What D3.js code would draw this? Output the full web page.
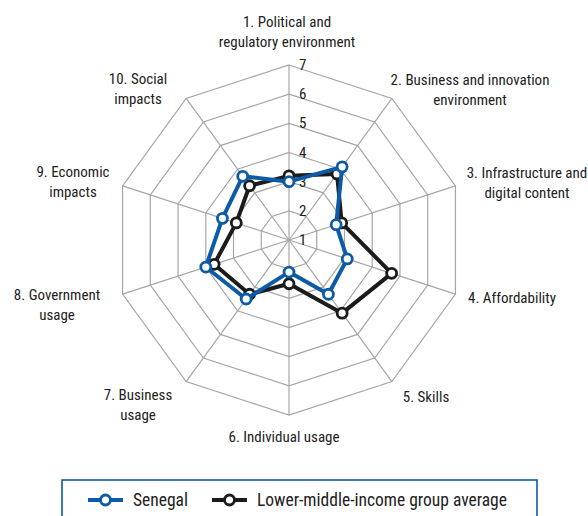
<!DOCTYPE html>
<html lang="en">
  <head>
    <meta charset="utf-8">
    <script type="text/javascript" src="https://cdn.jsdelivr.net/npm/d3@7"></script>
    <style>
      body { margin: 0; background: #fff; }
      svg { display: block; }
      text { font-family: "Liberation Sans Narrow", "Roboto Condensed", "Liberation Sans", sans-serif; fill: #222; }
    </style>
  </head>
  <body>
    <svg id="chart"></svg>
  </body>
  <script type="text/javascript">
    var width = 588;
    var height = 516;

    // data
    var categories = [
      ["1. Political and", "regulatory environment"],
      ["2. Business and innovation", "environment"],
      ["3. Infrastructure and", "digital content"],
      ["4. Affordability"],
      ["5. Skills"],
      ["6. Individual usage"],
      ["7. Business", "usage"],
      ["8. Government", "usage"],
      ["9. Economic", "impacts"],
      ["10. Social", "impacts"]
    ];
    var senegal = [3.0, 4.1, 2.7, 3.1, 3.3, 2.1, 3.5, 4.0, 3.4, 3.7];
    var groupAvg = [3.2, 3.8, 2.9, 4.7, 4.1, 2.5, 3.3, 3.7, 2.9, 3.3];
    var ticks = [1, 2, 3, 4, 5, 6, 7];
    var seriesNames = ["Senegal", "Lower-middle-income group average"];

    // layout for the category labels (centre x, first baseline)
    var labelPos = [
      [287, 27], [470, 85], [527, 178], [512, 303], [426, 402],
      [284, 442], [138, 400], [57, 300], [73, 177], [138, 84]
    ];

    var blue = "#0d5aa6";
    var black = "#1b1b1b";
    var cx = 289, cy = 240, R = 175;

    var svg = d3.select("#chart").attr("width", width).attr("height", height);

    var r = d3.scaleLinear().domain([1, 7]).range([0, R]);
    var angle = d3.scaleLinear().domain([0, categories.length]).range([0, 2 * Math.PI]);

    var g = svg.append("g").attr("transform", "translate(" + cx + "," + cy + ")");

    function pt(i, v) {
      var a = angle(i);
      return [r(v) * Math.sin(a), -r(v) * Math.cos(a)];
    }

    // grid rings
    var ring = d3.line().curve(d3.curveLinearClosed);
    g.selectAll("path.ring")
      .data(ticks.slice(1)).enter()
      .append("path")
      .attr("class", "ring")
      .attr("d", function(t) {
        return ring(categories.map(function(c, i) { return pt(i, t); }));
      })
      .attr("fill", "none")
      .attr("stroke", "#a6a6a6")
      .attr("stroke-width", 1.2);

    // spokes
    g.selectAll("line.spoke")
      .data(categories).enter()
      .append("line")
      .attr("class", "spoke")
      .attr("x1", 0).attr("y1", 0)
      .attr("x2", function(d, i) { return pt(i, 7)[0]; })
      .attr("y2", function(d, i) { return pt(i, 7)[1]; })
      .attr("stroke", "#a6a6a6")
      .attr("stroke-width", 1.2);

    // tick labels
    g.selectAll("text.tick")
      .data(ticks).enter()
      .append("text")
      .attr("class", "tick")
      .attr("x", 10)
      .attr("y", function(t) { return -r(t) + 5; })
      .attr("font-size", 15)
      .text(function(t) { return t; });

    // series
    var series = [
      { name: seriesNames[1], values: groupAvg, color: black },
      { name: seriesNames[0], values: senegal, color: blue }
    ];
    var line = d3.line().curve(d3.curveLinearClosed);

    series.forEach(function(s) {
      var pts = s.values.map(function(v, i) { return pt(i, v); });
      g.append("path")
        .attr("d", line(pts))
        .attr("fill", "none")
        .attr("stroke", s.color)
        .attr("stroke-width", 4)
        .attr("stroke-linejoin", "round");
      g.selectAll(null)
        .data(pts).enter()
        .append("circle")
        .attr("cx", function(p) { return p[0]; })
        .attr("cy", function(p) { return p[1]; })
        .attr("r", 5)
        .attr("fill", "#fff")
        .attr("stroke", s.color)
        .attr("stroke-width", 2.8);
    });

    // category labels
    var labels = svg.selectAll("text.cat")
      .data(categories).enter()
      .append("text")
      .attr("class", "cat")
      .attr("text-anchor", "middle")
      .attr("font-size", 15);
    labels.each(function(lines, i) {
      var t = d3.select(this);
      lines.forEach(function(l, k) {
        t.append("tspan")
          .attr("x", labelPos[i][0])
          .attr("y", labelPos[i][1] + k * 20)
          .text(l);
      });
    });

    // legend
    svg.append("rect")
      .attr("x", 62).attr("y", 480)
      .attr("width", 475).attr("height", 44)
      .attr("fill", "#fff")
      .attr("stroke", blue)
      .attr("stroke-width", 1.6);

    var legendItems = [
      { name: seriesNames[0], color: blue, x: 88 },
      { name: seriesNames[1], color: black, x: 212 }
    ];
    var lg = svg.selectAll("g.legend")
      .data(legendItems).enter()
      .append("g")
      .attr("class", "legend")
      .attr("transform", function(d) { return "translate(" + d.x + ",500)"; });
    lg.append("line")
      .attr("x1", 0).attr("x2", 35)
      .attr("stroke", function(d) { return d.color; })
      .attr("stroke-width", 4);
    lg.append("circle")
      .attr("cx", 17.5).attr("r", 5)
      .attr("fill", "#fff")
      .attr("stroke", function(d) { return d.color; })
      .attr("stroke-width", 2.8);
    lg.append("text")
      .attr("x", 45).attr("y", 6)
      .attr("font-size", 17.5)
      .text(function(d) { return d.name; });
  </script>
</html>
